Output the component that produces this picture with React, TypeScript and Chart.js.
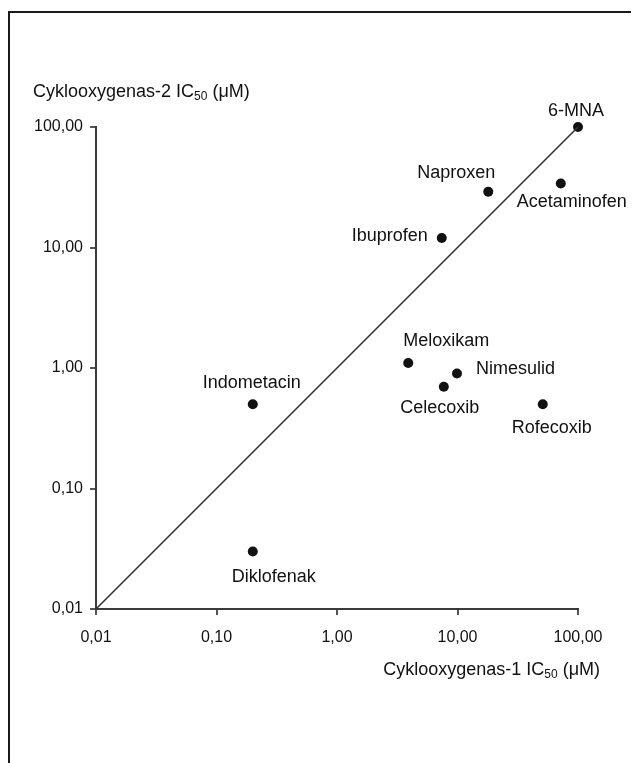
import React, { useEffect, useRef } from "react";
import { Chart, registerables } from "chart.js";

Chart.register(...registerables);

// ---- data ----
const drugs = [
  "6-MNA",
  "Naproxen",
  "Acetaminofen",
  "Ibuprofen",
  "Meloxikam",
  "Nimesulid",
  "Celecoxib",
  "Rofecoxib",
  "Indometacin",
  "Diklofenak",
];
const cox1IC50 = [100, 18, 72, 7.4, 3.9, 9.9, 7.7, 51, 0.2, 0.2];
const cox2IC50 = [100, 29, 34, 12, 1.1, 0.9, 0.7, 0.5, 0.5, 0.03];
const tickValues = [0.01, 0.1, 1, 10, 100];
const identityLine = [0.01, 100];

const xTitle = "Cyklooxygenas-1 IC";
const yTitle = "Cyklooxygenas-2 IC";
const titleSub = "50";
const titleUnit = " (\u03bcM)";

// ---- label placement (styling, not data) ----
const labelLayout: { dx: number; dy: number; align: CanvasTextAlign }[] = [
  { dx: -2, dy: -16, align: "center" },
  { dx: 7, dy: -19, align: "right" },
  { dx: 11, dy: 19, align: "center" },
  { dx: -14, dy: -2, align: "right" },
  { dx: -5, dy: -22, align: "left" },
  { dx: 19, dy: -4, align: "left" },
  { dx: -4, dy: 21, align: "center" },
  { dx: 9, dy: 24, align: "center" },
  { dx: -1, dy: -21, align: "center" },
  { dx: -21, dy: 26, align: "left" },
];

const FONT = "'Liberation Sans', Arial, sans-serif";
const fmt = (v: number) => Number(v).toFixed(2).replace(".", ",");

function drawTitle(ctx: CanvasRenderingContext2D, x: number, y: number, main: string, anchorRight: boolean) {
  ctx.save();
  ctx.fillStyle = "#111";
  ctx.textBaseline = "middle";
  ctx.textAlign = "left";
  ctx.font = `18px ${FONT}`;
  const w1 = ctx.measureText(main).width;
  const w3 = ctx.measureText(titleUnit).width;
  ctx.font = `12px ${FONT}`;
  const w2 = ctx.measureText(titleSub).width;
  let sx = anchorRight ? x - (w1 + w2 + w3) : x;
  ctx.font = `18px ${FONT}`;
  ctx.fillText(main, sx, y);
  sx += w1;
  ctx.font = `12px ${FONT}`;
  ctx.fillText(titleSub, sx, y + 5);
  sx += w2;
  ctx.font = `18px ${FONT}`;
  ctx.fillText(titleUnit, sx, y);
  ctx.restore();
}

const annotatePlugin = {
  id: "annotate",
  afterDatasetsDraw(chart: any) {
    const ctx: CanvasRenderingContext2D = chart.ctx;
    const meta = chart.getDatasetMeta(1);
    ctx.save();
    ctx.fillStyle = "#111";
    ctx.font = `18px ${FONT}`;
    ctx.textBaseline = "middle";
    meta.data.forEach((pt: any, i: number) => {
      const l = labelLayout[i];
      ctx.textAlign = l.align;
      ctx.fillText(drugs[i], pt.x + l.dx, pt.y + l.dy);
    });
    ctx.restore();
    drawTitle(ctx, 25, 84, yTitle, false);
    drawTitle(ctx, 592, 662, xTitle, true);
  },
};

export default function App() {
  const ref = useRef<HTMLCanvasElement | null>(null);

  useEffect(() => {
    document.documentElement.style.overflow = "hidden";
    document.body.style.overflow = "hidden";
    if (!ref.current) return;
    const setTicks = (s: any) => {
      s.ticks = tickValues.map((v) => ({ value: v }));
    };
    const chart = new Chart(ref.current, {
      type: "scatter",
      data: {
        datasets: [
          {
            data: identityLine.map((v) => ({ x: v, y: v })),
            showLine: true,
            borderColor: "#333",
            borderWidth: 1.6,
            pointRadius: 0,
            clip: false,
          } as any,
          {
            data: cox1IC50.map((x, i) => ({ x, y: cox2IC50[i] })),
            backgroundColor: "#111",
            borderColor: "#111",
            pointRadius: 5,
            pointBorderWidth: 0,
            clip: false,
          } as any,
        ],
      },
      options: {
        animation: false,
        responsive: false,
        events: [],
        layout: { padding: { top: 119, right: 61, left: 0, bottom: 0 } },
        plugins: {
          legend: { display: false },
          tooltip: { enabled: false },
        },
        scales: {
          x: {
            type: "logarithmic",
            position: "bottom",
            min: 0.01,
            max: 100,
            afterBuildTicks: setTicks,
            afterFit: (s: any) => {
              s.height = 154;
            },
            ticks: {
              callback: (v: any) => fmt(v),
              font: { family: FONT, size: 16 },
              color: "#111",
              padding: 13,
              maxRotation: 0,
              autoSkip: false,
            },
            grid: { drawOnChartArea: false, drawTicks: true, tickLength: 6, color: "#555", lineWidth: 2 },
            border: { color: "#3a3a3a", width: 2 },
          },
          y: {
            type: "logarithmic",
            position: "left",
            min: 0.01,
            max: 100,
            afterBuildTicks: setTicks,
            afterFit: (s: any) => {
              s.width = 88;
            },
            ticks: {
              callback: (v: any) => fmt(v),
              font: { family: FONT, size: 16 },
              color: "#111",
              padding: 7,
              autoSkip: false,
            },
            grid: { drawOnChartArea: false, drawTicks: true, tickLength: 6, color: "#555", lineWidth: 2 },
            border: { color: "#3a3a3a", width: 2 },
          },
        },
      } as any,
      plugins: [annotatePlugin],
    });
    return () => chart.destroy();
  }, []);

  return (
    <div style={{ position: "relative", width: 631, height: 755 }}>
      <div
        style={{
          position: "absolute",
          top: 3,
          left: 0,
          width: 640,
          height: 760,
          borderTop: "2px solid #1a1a1a",
          borderLeft: "2px solid #1a1a1a",
          boxSizing: "border-box",
        }}
      />
      <canvas ref={ref} width={631} height={755} style={{ position: "absolute", top: 0, left: 0, display: "block" }} />
    </div>
  );
}
